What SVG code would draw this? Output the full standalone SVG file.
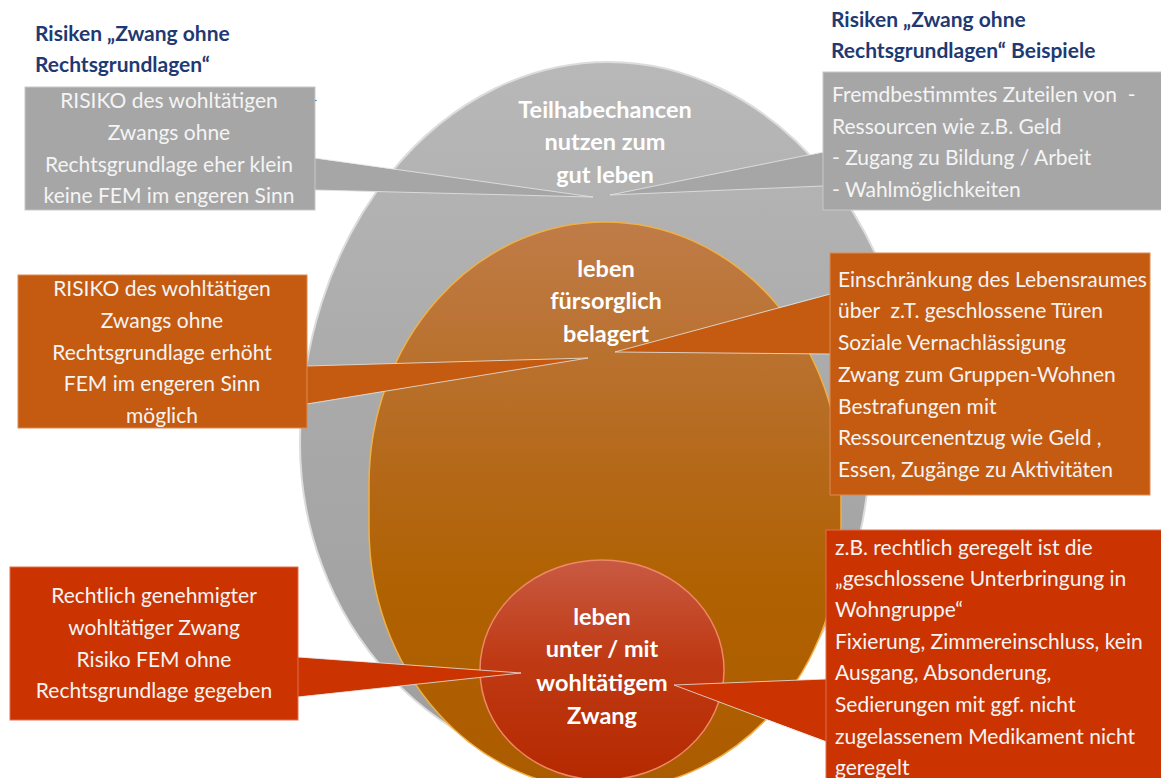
<svg xmlns="http://www.w3.org/2000/svg" width="1161" height="778" viewBox="0 0 1161 778">
<defs>
<linearGradient id="gGrey" x1="0" y1="0" x2="0" y2="1">
<stop offset="0" stop-color="#b8b8b8"/><stop offset="0.5" stop-color="#a9a9a9"/><stop offset="1" stop-color="#9e9e9e"/>
</linearGradient>
<linearGradient id="gOrange" x1="0" y1="0" x2="0" y2="1">
<stop offset="0" stop-color="#c07c48"/><stop offset="0.35" stop-color="#b66c22"/><stop offset="0.65" stop-color="#b06100"/><stop offset="1" stop-color="#ac5c00"/>
</linearGradient>
<linearGradient id="gRed" x1="0" y1="0" x2="0" y2="1">
<stop offset="0" stop-color="#c85a42"/><stop offset="0.45" stop-color="#bf3a14"/><stop offset="1" stop-color="#b52900"/>
</linearGradient>
<style>
.title{font-family:"Lato","Liberation Sans",sans-serif;font-weight:bold;font-size:21px;fill:#1f3a73}
.lbl{font-family:"Lato","Liberation Sans",sans-serif;font-weight:bold;font-size:23.5px;fill:#ffffff;text-anchor:middle}
.bt{font-family:"Lato","Liberation Sans",sans-serif;font-size:21px;fill:#f4f4f4}
.c{text-anchor:middle}
.grey{fill:#a6a6a6}
.orange{fill:#c55a11}
.red{fill:#cb3300}
.edge{fill:none;stroke:#e6e6e6;stroke-width:1;stroke-opacity:0.8}
</style>
</defs>
<rect width="1161" height="778" fill="#ffffff"/>

<g id="node-outer">
<path d="M300,443 A308,381 0 0 1 916,443 L870,443 A262,330 0 0 1 608,773 A308,330 0 0 1 300,443 Z" fill="url(#gGrey)" stroke="#dcdcdc" stroke-width="2"/>
<text class="lbl" x="605" y="118">Teilhabechancen</text>
<text class="lbl" x="605" y="150">nutzen zum</text>
<text class="lbl" x="605" y="183">gut leben</text>
</g>

<g id="node-middle">
<path d="M369,484 A236,262 0 0 1 841,484 L841,528 A236,262 0 0 1 369,528 Z" fill="url(#gOrange)" stroke="#f0b048" stroke-width="1.5"/>
<text class="lbl" x="606" y="277">leben</text>
<text class="lbl" x="606" y="309">fürsorglich</text>
<text class="lbl" x="606" y="342">belagert</text>
</g>

<g id="node-inner">
<ellipse cx="602" cy="670" rx="122" ry="110" fill="url(#gRed)" stroke="#ee8866" stroke-width="1.5"/>
<text class="lbl" x="602" y="625">leben</text>
<text class="lbl" x="602" y="657">unter / mit</text>
<text class="lbl" x="602" y="691">wohltätigem</text>
<text class="lbl" x="602" y="724">Zwang</text>
</g>

<g id="connectors">
<polygon class="grey" points="313,158 593,197 313,190"/>
<polyline class="edge" points="315,158 593,197 315,190"/>
<polygon class="grey" points="825,152 610,195 825,186"/>
<polyline class="edge" points="823,152 610,195 823,186"/>
<polygon class="orange" points="305,366 588,358 305,404"/>
<polyline class="edge" points="307,366 588,358 307,404"/>
<polygon class="orange" points="832,294 615,352 832,354"/>
<polyline class="edge" points="830,294 615,352 830,354"/>
<polygon class="red" points="296,657 521,673 296,697"/>
<polyline class="edge" points="298,657 521,673 298,697"/>
<polygon class="red" points="828,679 674,685 828,742"/>
<polyline class="edge" points="826,679 674,685 826,742"/>
</g>

<g id="title-left">
<text class="title" x="35" y="41">Risiken „Zwang ohne</text>
<text class="title" x="35" y="72">Rechtsgrundlagen“</text>
<text x="313" y="104" style="font-family:'Liberation Sans',sans-serif;font-size:12px;fill:#1f3a73">-</text>
</g>

<g id="title-right">
<text class="title" x="831" y="27">Risiken „Zwang ohne</text>
<text class="title" x="831" y="58">Rechtsgrundlagen“ Beispiele</text>
</g>

<g id="callout-grey-left">
<rect class="grey" x="25" y="87" width="290" height="123" stroke="#c8c8c8" stroke-width="1"/>
<text class="bt c" x="169" y="108">RISIKO des wohltätigen</text>
<text class="bt c" x="169" y="140">Zwangs ohne</text>
<text class="bt c" x="169" y="172">Rechtsgrundlage eher klein</text>
<text class="bt c" x="169" y="203">keine FEM im engeren Sinn</text>
</g>

<g id="callout-grey-right">
<rect class="grey" x="823" y="72" width="340" height="138" stroke="#c8c8c8" stroke-width="1"/>
<text class="bt" x="832" y="102" xml:space="preserve">Fremdbestimmtes Zuteilen von  -</text>
<text class="bt" x="832" y="134">Ressourcen wie z.B. Geld</text>
<text class="bt" x="832" y="165">- Zugang zu Bildung / Arbeit</text>
<text class="bt" x="832" y="197">- Wahlmöglichkeiten</text>
</g>

<g id="callout-orange-left">
<rect class="orange" x="18" y="275" width="289" height="153" stroke="#d98a55" stroke-width="1"/>
<text class="bt c" x="162" y="296">RISIKO des wohltätigen</text>
<text class="bt c" x="162" y="328">Zwangs ohne</text>
<text class="bt c" x="162" y="360">Rechtsgrundlage erhöht</text>
<text class="bt c" x="162" y="391">FEM im engeren Sinn</text>
<text class="bt c" x="162" y="423">möglich</text>
</g>

<g id="callout-orange-right">
<rect class="orange" x="830" y="253" width="320" height="242" stroke="#d98a55" stroke-width="1"/>
<text class="bt" x="838" y="287">Einschränkung des Lebensraumes</text>
<text class="bt" x="838" y="318" xml:space="preserve">über  z.T. geschlossene Türen</text>
<text class="bt" x="838" y="350">Soziale Vernachlässigung</text>
<text class="bt" x="838" y="382">Zwang zum Gruppen-Wohnen</text>
<text class="bt" x="838" y="414">Bestrafungen mit</text>
<text class="bt" x="838" y="445">Ressourcenentzug wie Geld ,</text>
<text class="bt" x="838" y="477">Essen, Zugänge zu Aktivitäten</text>
</g>

<g id="callout-red-left">
<rect class="red" x="10" y="567" width="288" height="153" stroke="#e07050" stroke-width="1"/>
<text class="bt c" x="154" y="603">Rechtlich genehmigter</text>
<text class="bt c" x="154" y="635">wohltätiger Zwang</text>
<text class="bt c" x="154" y="667">Risiko FEM ohne</text>
<text class="bt c" x="154" y="698">Rechtsgrundlage gegeben</text>
</g>

<g id="callout-red-right">
<rect class="red" x="826" y="530" width="340" height="260" stroke="#e07050" stroke-width="1"/>
<text class="bt" x="835" y="555">z.B. rechtlich geregelt ist die</text>
<text class="bt" x="835" y="586">„geschlossene Unterbringung in</text>
<text class="bt" x="835" y="617">Wohngruppe“</text>
<text class="bt" x="835" y="649">Fixierung, Zimmereinschluss, kein</text>
<text class="bt" x="835" y="680">Ausgang, Absonderung,</text>
<text class="bt" x="835" y="712">Sedierungen mit ggf. nicht</text>
<text class="bt" x="835" y="744">zugelassenem Medikament nicht</text>
<text class="bt" x="835" y="775">geregelt</text>
</g>
</svg>
